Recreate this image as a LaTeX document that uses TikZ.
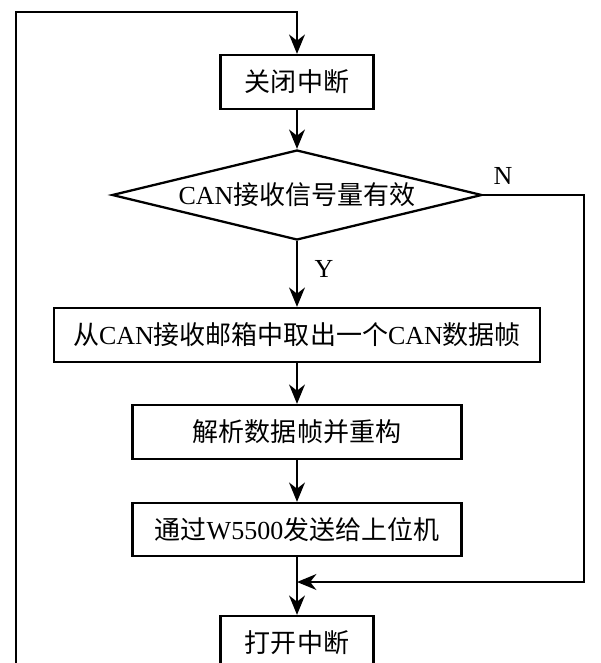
\documentclass[tikz,border=0pt]{standalone}
\usepackage{fontspec}
\setmainfont{Liberation Serif}
\newfontfamily\cjk{Noto Sans CJK SC}
\usetikzlibrary{arrows.meta,shapes.geometric}
\newcommand\lat[1]{{\rmfamily #1}}

\tikzset{
  procbox/.style={draw, line width=1.3pt, inner sep=0pt, minimum height=1.08cm,
    font=\fontsize{14.8}{18}\selectfont\cjk},
  decbox/.style={draw, diamond, line width=1.3pt, inner sep=0pt, aspect=4.1,
    minimum width=7.4cm, minimum height=1.8cm, font=\fontsize{14.8}{18}\selectfont\cjk},
  arr/.style={line width=1.3pt, -{Stealth[length=11pt,width=9pt,inset=3.5pt]}},
  lbl/.style={font=\fontsize{14.8}{18}\selectfont}
}

\begin{document}
\begin{tikzpicture}[x=0.02cm,y=-0.02cm]
      \useasboundingbox (0,0) rectangle (600,663);
      \clip (0,0) rectangle (600,663);

      % cajas
      \node[procbox, minimum width=3.06cm] (cerrar) at (297,82) {关闭中断};
      \node[decbox] (valido) at (297,195) {\lat{CAN}接收信号量有效};
      \node[procbox, minimum width=9.72cm] (tomar) at (297,335) {从\lat{CAN}接收邮箱中取出一个\lat{CAN}数据帧};
      \node[procbox, minimum width=6.58cm] (parse) at (297,432) {解析数据帧并重构};
      \node[procbox, minimum width=6.58cm, minimum height=1.06cm] (enviar) at (297,529.5) {通过\lat{W5500}发送给上位机};
      \node[procbox, minimum width=3.06cm] (abrir) at (297,643) {打开中断};

      % puntos de paso
      \coordinate (union) at (297,582);
      \coordinate (der) at (584,582);
      \coordinate (abajo) at (16,690);
      \coordinate (arriba) at (16,12);

      % flechas
      \draw[arr] (cerrar) -- (valido);
      \draw[arr] (valido) -- (tomar) node[lbl, pos=0.42, right=6pt] {Y};
      \draw[arr] (tomar) -- (parse);
      \draw[arr] (parse) -- (enviar);
      \draw[arr] (enviar) -- (abrir);
      \draw[arr] (valido.east) -| (der) -- (union);
      \node[lbl] (no) at (503,176) {N};

      % lazo
      \draw[arr] (abrir.south) |- (abajo) -- (arriba) -| (cerrar.north);

  \end{tikzpicture}
\end{document}
